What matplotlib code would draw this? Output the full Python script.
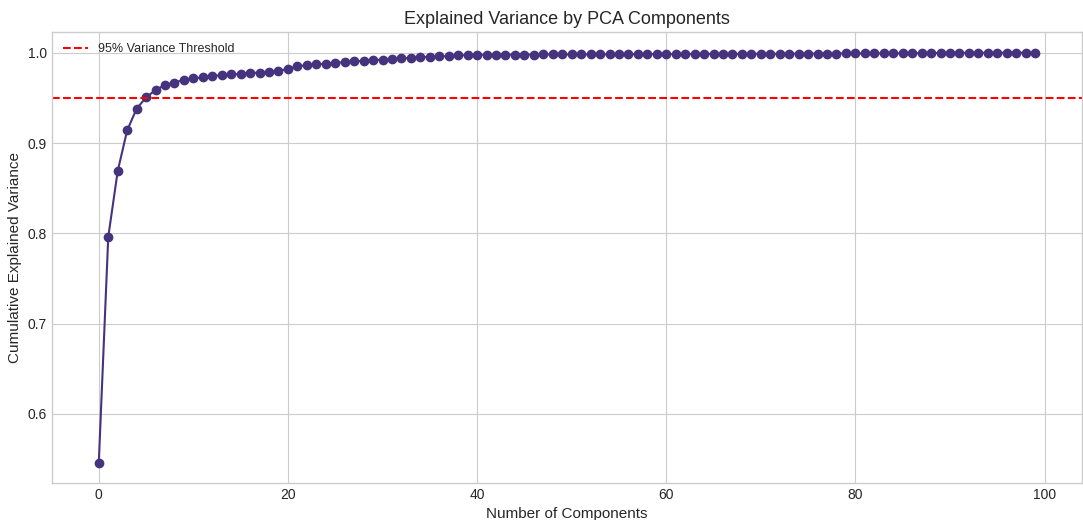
import numpy as np
import matplotlib
matplotlib.use("Agg")
import matplotlib.pyplot as plt

# cumulative explained variance, components 0..99
cum_var = [
    0.546, 0.796, 0.869, 0.914, 0.938, 0.9505, 0.9587, 0.9642, 0.967, 0.970,
    0.9716, 0.9726, 0.974, 0.9753, 0.976, 0.9767, 0.9775, 0.978, 0.979, 0.980,
    0.982, 0.9852, 0.986, 0.987, 0.988, 0.9886, 0.9897, 0.9904, 0.9911, 0.9919,
    0.9922, 0.993, 0.9937, 0.9945, 0.995, 0.9956, 0.996, 0.9963, 0.997, 0.9975,
    0.9978, 0.9978, 0.9979, 0.9979, 0.998, 0.998, 0.998, 0.9981, 0.9981, 0.9982,
    0.9982, 0.9982, 0.9983, 0.9983, 0.9983, 0.9984, 0.9984, 0.9984, 0.9985, 0.9985,
    0.9985, 0.9986, 0.9986, 0.9986, 0.9987, 0.9987, 0.9987, 0.9988, 0.9988, 0.9988,
    0.9989, 0.9989, 0.9989, 0.999, 0.999, 0.999, 0.9991, 0.9991, 0.9991, 0.9992,
    0.9992, 0.9992, 0.9993, 0.9993, 0.9993, 0.9994, 0.9995, 0.9996, 0.9997, 0.9998,
    0.9998, 0.9999, 0.9999, 0.9999, 1.0, 1.0, 1.0, 1.0, 1.0, 1.0,
]
components = list(range(len(cum_var)))
threshold = 0.95

plt.style.use("seaborn-v0_8-whitegrid")
plt.rcParams["font.family"] = ["Liberation Sans", "DejaVu Sans"]
plt.rcParams["text.color"] = "#262626"
plt.rcParams["axes.labelcolor"] = "#262626"
plt.rcParams["xtick.color"] = "#262626"
plt.rcParams["ytick.color"] = "#262626"

fig, ax = plt.subplots(figsize=(10.83, 5.2), dpi=100)
fig.subplots_adjust(left=0.048, right=0.999, top=0.938, bottom=0.071)

ax.plot(components, cum_var, marker="o", color="#46337e", markersize=6, linewidth=1.5)
ax.axhline(y=threshold, color="red", linestyle="--", linewidth=1.5, label="95% Variance Threshold")

ax.set_title("Explained Variance by PCA Components", fontsize=13)
ax.set_xlabel("Number of Components", fontsize=11)
ax.set_ylabel("Cumulative Explained Variance", fontsize=11)
ax.tick_params(labelsize=10)
for s in ax.spines.values():
    s.set_visible(True)
    s.set_color("#cccccc")
ax.legend(loc="upper left", fontsize=9)

fig.savefig("out.png")
